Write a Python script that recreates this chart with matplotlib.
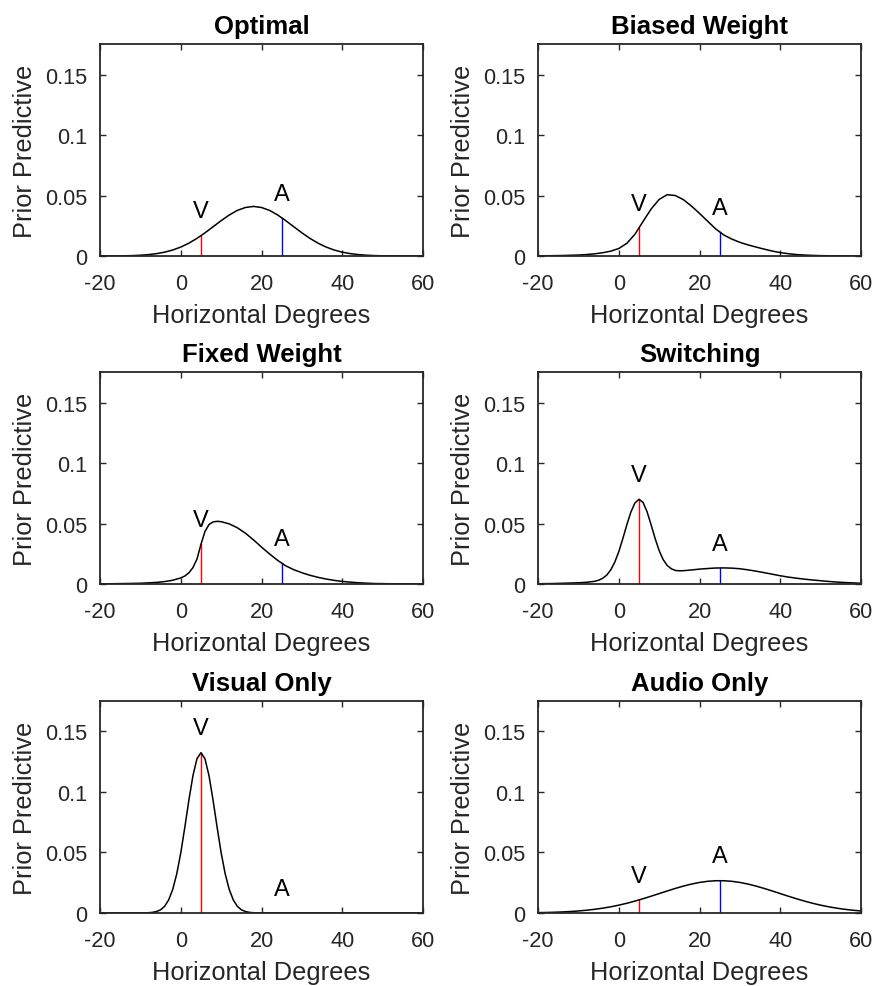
import matplotlib
matplotlib.use('Agg')
import matplotlib.pyplot as plt

plt.rcParams['font.family'] = ['Liberation Sans', 'DejaVu Sans']
plt.rcParams['axes.unicode_minus'] = False

titles = ['Optimal', 'Biased Weight', 'Fixed Weight', 'Switching', 'Visual Only', 'Audio Only']
v_loc = 5
a_loc = 25
x_ticks = [-20, 0, 20, 40, 60]
x_tick_labels = ['-20', '0', '20', '40', '60']
y_ticks = [0, 0.05, 0.1, 0.15]
y_tick_labels = ['0', '0.05', '0.1', '0.15']

# Optimal
opt_x = list(range(-20, 61, 2))
opt_y = [0.00002, 0.00004, 0.00009, 0.00018, 0.00035, 0.00065, 0.00116, 0.00196,
         0.00319, 0.00495, 0.00741, 0.01061, 0.01457, 0.01917, 0.02418, 0.02924,
         0.0339, 0.0377, 0.0401, 0.041, 0.0401, 0.0377, 0.0339, 0.02924, 0.02418,
         0.01917, 0.01457, 0.01061, 0.00741, 0.00495, 0.00319, 0.00196, 0.00116,
         0.00065, 0.00035, 0.00018, 0.00009, 0.00004, 0.00002, 0.00001, 0.0]

# Biased Weight
bias_x = list(range(-20, 61, 2))
bias_y = [0.0001, 0.0002, 0.0003, 0.0004, 0.0006, 0.0008, 0.0012, 0.0018, 0.0027,
          0.0040, 0.0062, 0.0105, 0.0180, 0.0285, 0.0388, 0.0468, 0.0507, 0.0500,
          0.0466, 0.0413, 0.0352, 0.0288, 0.0224, 0.0174, 0.0140, 0.0113, 0.0092,
          0.0074, 0.0057, 0.0041, 0.0028, 0.0019, 0.0012, 0.0008, 0.0005, 0.0003,
          0.0002, 0.0001, 0.0001, 0.0, 0.0]

# Fixed Weight
fix_x = [-20, -15, -10, -6, -4, -2, 0, 1, 2, 3, 4, 5, 6, 7, 8, 9, 10, 12, 14, 16, 18,
         20, 22, 24, 26, 28, 30, 32, 34, 36, 38, 40, 44, 48, 52, 56, 60]
fix_y = [0.0001, 0.0003, 0.0006, 0.0013, 0.0020, 0.0031, 0.0050, 0.0066, 0.0092,
         0.0135, 0.0205, 0.0328, 0.0435, 0.0492, 0.0513, 0.0518, 0.0515, 0.0497,
         0.0465, 0.0420, 0.0365, 0.0305, 0.0248, 0.0195, 0.0150, 0.0118, 0.0093,
         0.0072, 0.0055, 0.0041, 0.0030, 0.0021, 0.0010, 0.0004, 0.0002, 0.0001, 0.0]

# Switching
sw_x = [-20, -16, -12, -10, -8, -6, -5, -4, -3, -2, -1, 0, 1, 2, 3, 4, 5, 6, 7, 8,
        9, 10, 11, 12, 13, 14, 15, 16, 18, 20, 22, 24, 26, 28, 30, 32, 34, 36, 38,
        40, 42, 44, 46, 48, 50, 52, 54, 56, 58, 60]
sw_y = [0.0002, 0.0004, 0.0008, 0.0010, 0.0014, 0.0022, 0.0031, 0.0047, 0.0073,
        0.0116, 0.0180, 0.0267, 0.0375, 0.0490, 0.0595, 0.0670, 0.0700, 0.0675,
        0.0598, 0.0490, 0.0376, 0.0276, 0.0201, 0.0153, 0.0126, 0.0112, 0.0109,
        0.0110, 0.0116, 0.0123, 0.0128, 0.0132, 0.0133, 0.0131, 0.0126, 0.0117,
        0.0106, 0.0094, 0.0081, 0.0068, 0.0057, 0.0048, 0.0040, 0.0033, 0.0027,
        0.0021, 0.0016, 0.0012, 0.0009, 0.0006]

# Visual Only
vis_x = [-20, -10, -9, -8, -7, -6, -5, -4, -3, -2, -1, 0, 1, 2, 3, 4, 5, 6, 7, 8, 9,
         10, 11, 12, 13, 14, 15, 16, 17, 18, 19, 20, 30, 40, 50, 60]
vis_y = [0.0, 0.0, 0.0001, 0.0002, 0.0005, 0.0012, 0.0026, 0.0055, 0.0108, 0.0194,
         0.0323, 0.0497, 0.0708, 0.0931, 0.1133, 0.1274, 0.1325, 0.1274, 0.1133,
         0.0931, 0.0708, 0.0497, 0.0323, 0.0194, 0.0108, 0.0055, 0.0026, 0.0012,
         0.0005, 0.0002, 0.0001, 0.0, 0.0, 0.0, 0.0, 0.0]

# Audio Only
aud_x = list(range(-20, 61, 2))
aud_y = [0.00027, 0.0004, 0.00058, 0.00084, 0.00119, 0.00165, 0.00225, 0.00301,
         0.00395, 0.00509, 0.00645, 0.00802, 0.0098, 0.01176, 0.01384, 0.01601,
         0.01818, 0.02028, 0.02221, 0.02389, 0.02523, 0.02616, 0.02664, 0.02664,
         0.02616, 0.02523, 0.02389, 0.02221, 0.02028, 0.01818, 0.01601, 0.01384,
         0.01176, 0.0098, 0.00802, 0.00645, 0.00509, 0.00395, 0.00301, 0.00225,
         0.00165]

curves_x = [opt_x, bias_x, fix_x, sw_x, vis_x, aud_x]
curves_y = [opt_y, bias_y, fix_y, sw_y, vis_y, aud_y]
v_heights = [0.0168, 0.0232, 0.0328, 0.0700, 0.1325, 0.0105]
a_heights = [0.0316, 0.0197, 0.0170, 0.0133, 0.0, 0.0267]

if __name__ == "__main__":
    fig = plt.figure(figsize=(8.76, 9.87), dpi=100)
    lefts = [0.1142, 0.6142]
    bottoms = [0.7396, 0.4073, 0.0740]
    w = 0.3687
    h = 0.2145
    dark = '#262626'

    for i in range(6):
        ax = fig.add_axes([lefts[i % 2], bottoms[i // 2], w, h])
        ax.plot([v_loc, v_loc], [0, v_heights[i]], color='#ff0000', lw=1.0)
        ax.plot([a_loc, a_loc], [0, a_heights[i]], color='#0000ff', lw=1.0)
        ax.plot(curves_x[i], curves_y[i], color='black', lw=1.1)
        ax.text(v_loc, v_heights[i] + 0.02, 'V', ha='center', va='center', fontsize=17)
        ax.text(a_loc, a_heights[i] + 0.02, 'A', ha='center', va='center', fontsize=17)
        ax.set_xlim(-20, 60)
        ax.set_ylim(0, 0.175)
        ax.set_xticks(x_ticks)
        ax.set_xticklabels(x_tick_labels)
        ax.set_yticks(y_ticks)
        ax.set_yticklabels(y_tick_labels)
        ax.tick_params(direction='in', top=True, right=True, length=4, width=1,
                       colors=dark, labelsize=15.7, labelcolor=dark)
        ax.tick_params(axis='x', pad=12)
        ax.tick_params(axis='y', pad=9)
        for s in ax.spines.values():
            s.set_color(dark)
            s.set_linewidth(1.3)
        ax.set_title(titles[i], fontsize=18.5, fontweight='bold', pad=8)
        ax.set_xlabel('Horizontal Degrees', fontsize=18.3, color=dark, labelpad=7)
        ax.set_ylabel('Prior Predictive', fontsize=18.3, color=dark, labelpad=6)

    fig.savefig('out.png', dpi=100)
